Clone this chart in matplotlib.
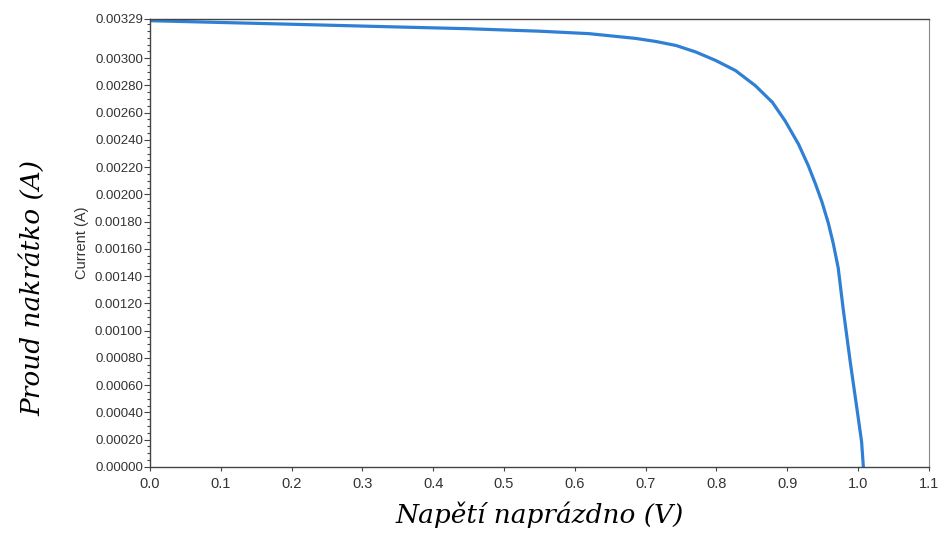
import matplotlib
matplotlib.use("Agg")
import matplotlib.pyplot as plt
from matplotlib.ticker import FixedLocator, MultipleLocator

# --- data ---
voltage = [0.0, 0.1, 0.2, 0.334, 0.45, 0.55, 0.62, 0.686, 0.715, 0.743, 0.771,
           0.799, 0.827, 0.855, 0.879, 0.897, 0.916, 0.930, 0.940, 0.949, 0.958,
           0.965, 0.972, 0.979, 0.989, 1.000, 1.005, 1.0075]
current = [0.003275, 0.003262, 0.003249, 0.003231, 0.003216, 0.003198, 0.003180,
           0.003145, 0.003122, 0.003093, 0.003045, 0.002983, 0.002909, 0.002798,
           0.002676, 0.002540, 0.002368, 0.002208, 0.002075, 0.001945, 0.001790,
           0.001640, 0.001460, 0.001160, 0.000770, 0.000370, 0.000185, 0.0]

y_major = [0.0, 0.0002, 0.0004, 0.0006, 0.0008, 0.0010, 0.0012, 0.0014, 0.0016,
           0.0018, 0.0020, 0.0022, 0.0024, 0.0026, 0.0028, 0.0030, 0.00329]
x_major = [0.0, 0.1, 0.2, 0.3, 0.4, 0.5, 0.6, 0.7, 0.8, 0.9, 1.0, 1.1]

fig = plt.figure(figsize=(9.43, 5.33), dpi=100)
ax = fig.add_axes([0.159, 0.124, 0.826, 0.841])

ax.plot(voltage, current, color="#2f80d4", lw=2.3,
        solid_capstyle="round", solid_joinstyle="round")

ax.set_xlim(0.0, 1.1)
ax.set_ylim(0.0, 0.00329)
ax.xaxis.set_major_locator(FixedLocator(x_major))
ax.yaxis.set_major_locator(FixedLocator(y_major))
ax.yaxis.set_minor_locator(MultipleLocator(0.00005))
ax.set_xticklabels([f"{v:.1f}" for v in x_major])
ax.set_yticklabels([f"{v:.5f}" for v in y_major])

for lab in ax.get_yticklabels():
    lab.set_fontfamily("Liberation Sans")
    lab.set_fontsize(9.5)
    lab.set_color("#333333")
for lab in ax.get_xticklabels():
    lab.set_fontfamily("Liberation Sans")
    lab.set_fontsize(10.5)
    lab.set_color("#333333")

ax.tick_params(axis="y", which="major", length=4, width=0.8, color="#444444", pad=1)
ax.tick_params(axis="y", which="minor", length=2, width=0.8, color="#444444")
ax.tick_params(axis="x", which="major", length=3, width=0.8, color="#444444", pad=4)

for side in ["left", "bottom", "top"]:
    ax.spines[side].set_color("#444444")
    ax.spines[side].set_linewidth(1.0)
ax.spines["right"].set_color("#888888")
ax.spines["right"].set_linewidth(0.8)

# inner label from the original instrument plot
ax.set_ylabel("Current (A)", fontfamily="Liberation Sans", fontsize=10.5,
              color="#333333", labelpad=4)

# outer labels (serif italic)
fig.text(0.034, 0.46, "Proud nakrátko (A)", rotation=90, ha="center", va="center",
         fontfamily="DejaVu Serif", fontstyle="italic", fontsize=19)
fig.text(0.572, 0.035, "Napětí naprázdno (V)", ha="center", va="center",
         fontfamily="DejaVu Serif", fontstyle="italic", fontsize=19)

fig.savefig("out.png", dpi=100)
